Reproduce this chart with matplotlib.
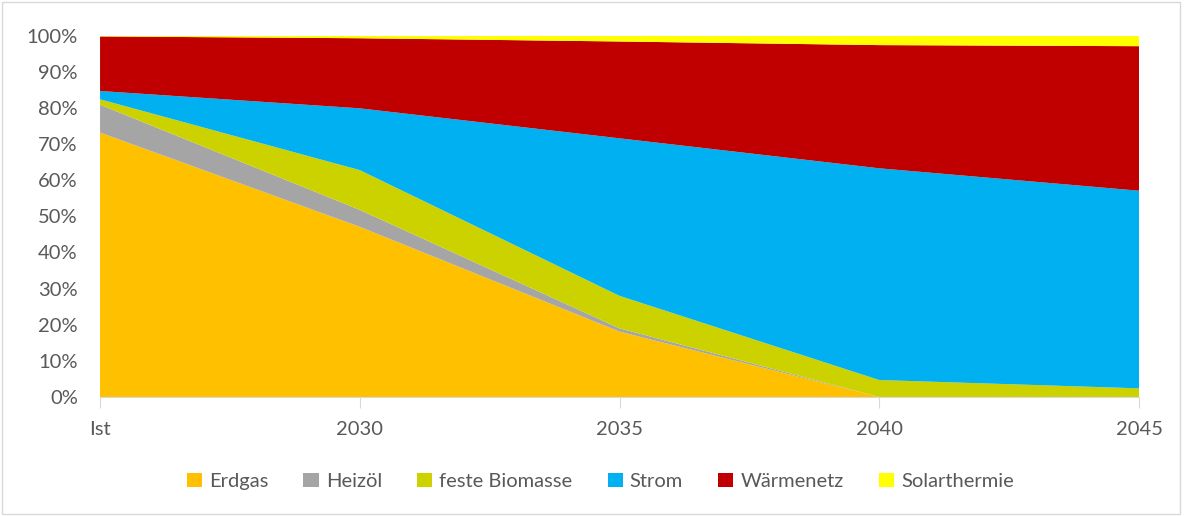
import matplotlib.pyplot as plt
import numpy as np
from matplotlib.patches import Rectangle

plt.rcParams["font.family"] = ["Lato", "DejaVu Sans"]

# Anteile der Energieträger an der Wärmeversorgung [%]
jahre = ["Ist", "2030", "2035", "2040", "2045"]
erdgas = [73.2, 47.1, 18.1, 0.0, 0.0]
heizoel = [7.7, 4.7, 0.9, 0.0, 0.0]
biomasse = [1.5, 11.0, 9.0, 4.7, 2.4]
strom = [2.3, 17.1, 43.6, 58.6, 54.7]
waermenetz = [15.1, 19.4, 26.8, 34.1, 40.0]
solar = [0.2, 0.7, 1.6, 2.6, 2.9]

labels = ["Erdgas", "Heizöl", "feste Biomasse", "Strom", "Wärmenetz", "Solarthermie"]
colors = ["#FFC000", "#A5A5A5", "#CCD200", "#00B0F0", "#C00000", "#FFFF00"]

fig = plt.figure(figsize=(11.84, 5.16), dpi=100)
ax = fig.add_axes([0.0845, 0.2306, 0.8775, 0.7002])

x = np.arange(len(jahre))
ax.stackplot(x, erdgas, heizoel, biomasse, strom, waermenetz, solar,
             labels=labels, colors=colors, linewidth=0)

ax.set_xlim(0, len(jahre) - 1)
ax.set_ylim(0, 100)
ax.set_xticks(x)
ax.set_xticklabels(jahre)
ax.set_yticks(np.arange(0, 101, 10))
ax.set_yticklabels([f"{v}%" for v in range(0, 101, 10)])

for side in ["top", "right", "left"]:
    ax.spines[side].set_visible(False)
ax.spines["bottom"].set_color("#D9D9D9")
ax.tick_params(axis="y", length=0, pad=16, labelsize=14.5, labelcolor="#595959")
ax.tick_params(axis="x", length=8, color="#D9D9D9", pad=9, labelsize=14.5,
               labelcolor="#595959")

handles, lbls = ax.get_legend_handles_labels()
fig.legend(handles, lbls, loc="center", bbox_to_anchor=(0.507, 0.067), ncol=6,
           frameon=False, fontsize=14.5, labelcolor="#595959", handlelength=0.75,
           handleheight=0.75, handletextpad=0.35, columnspacing=1.75)

# Rahmen um das Diagramm
fig.patches.append(Rectangle((0.002, 0.004), 0.995, 0.992, transform=fig.transFigure,
                             fill=False, edgecolor="#D9D9D9", linewidth=1))

fig.savefig("out.png", dpi=100)
